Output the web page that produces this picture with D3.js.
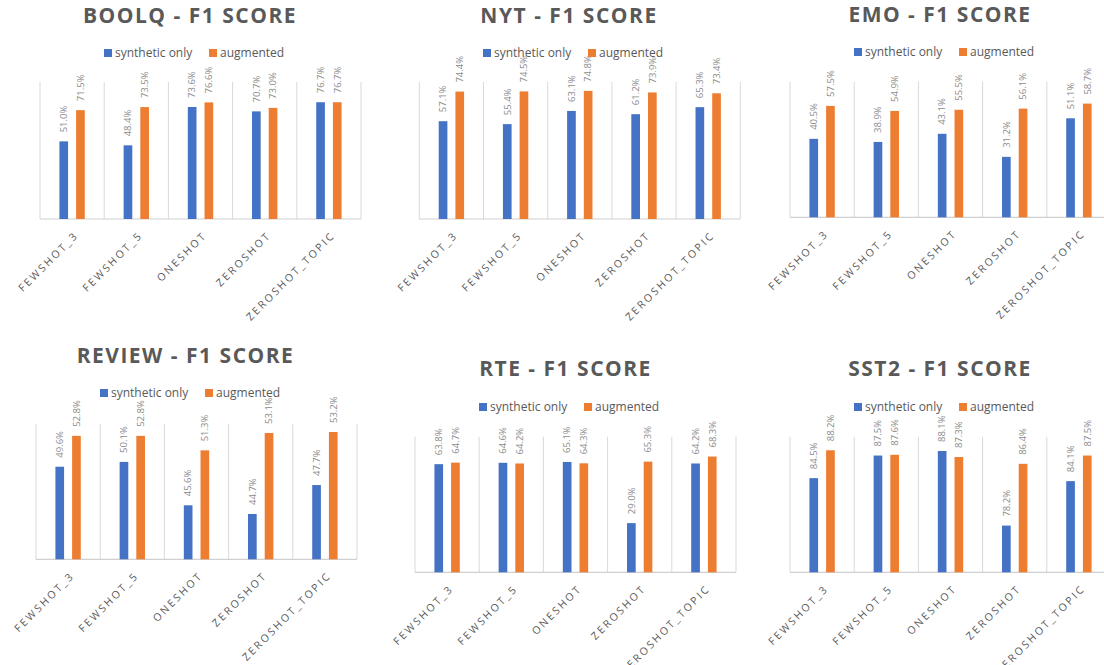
<!DOCTYPE html>
<html>
<head>
<meta charset="utf-8">
<script src="https://cdn.jsdelivr.net/npm/d3@7"></script>
<style>
  html, body { margin: 0; padding: 0; background: #ffffff; }
  svg { display: block; }
</style>
</head>
<body>
<svg id="chart" width="1104" height="665"></svg>
<script>
// ---------- DATA ----------
const categories = ["FEWSHOT_3", "FEWSHOT_5", "ONESHOT", "ZEROSHOT", "ZEROSHOT_TOPIC"];
const seriesNames = ["synthetic only", "augmented"];
const chartTitles = ["BOOLQ - F1 SCORE", "NYT - F1 SCORE", "EMO - F1 SCORE",
                     "REVIEW - F1 SCORE", "RTE - F1 SCORE", "SST2 - F1 SCORE"];

const boolqSynthetic  = [51.0, 48.4, 73.6, 70.7, 76.7];
const boolqAugmented  = [71.5, 73.5, 76.6, 73.0, 76.7];
const nytSynthetic    = [57.1, 55.4, 63.1, 61.2, 65.3];
const nytAugmented    = [74.4, 74.5, 74.8, 73.9, 73.4];
const emoSynthetic    = [40.5, 38.9, 43.1, 31.2, 51.1];
const emoAugmented    = [57.5, 54.9, 55.5, 56.1, 58.7];
const reviewSynthetic = [49.6, 50.1, 45.6, 44.7, 47.7];
const reviewAugmented = [52.8, 52.8, 51.3, 53.1, 53.2];
const rteSynthetic    = [63.8, 64.6, 65.1, 29.0, 64.2];
const rteAugmented    = [64.7, 64.2, 64.3, 65.3, 68.3];
const sst2Synthetic   = [84.5, 87.5, 88.1, 78.2, 84.1];
const sst2Augmented   = [88.2, 87.6, 87.3, 86.4, 87.5];

// value-axis ranges (hidden axes) per chart
const axisDomains = [[0, 90], [0, 80], [0, 70], [40, 54], [0, 80], [72, 90]];

const syntheticByChart = [boolqSynthetic, nytSynthetic, emoSynthetic, reviewSynthetic, rteSynthetic, sst2Synthetic];
const augmentedByChart = [boolqAugmented, nytAugmented, emoAugmented, reviewAugmented, rteAugmented, sst2Augmented];

// ---------- LAYOUT (positions only) ----------
const layouts = [
  {x0: 40,    top: 82,    base: 219,   titleX: 190,   titleY: 23,  legX: 104, legY: 49},
  {x0: 419.3, top: 82,    base: 219,   titleX: 569,   titleY: 23,  legX: 483, legY: 49},
  {x0: 790,   top: 81.7,  base: 217.3, titleX: 940,   titleY: 22,  legX: 854, legY: 48},
  {x0: 36,    top: 424.3, base: 559.3, titleX: 185.5, titleY: 363, legX: 100, legY: 389},
  {x0: 415,   top: 436.7, base: 572.3, titleX: 565.5, titleY: 376, legX: 479, legY: 403},
  {x0: 790,   top: 436.7, base: 572.3, titleX: 940,   titleY: 376, legX: 854, legY: 403}
];
const plotWidth = 321;
const colors = {"synthetic only": "#4472C4", "augmented": "#ED7D31"};
const font = "'Open Sans', 'Noto Sans', sans-serif";

const svg = d3.select("#chart");

chartTitles.forEach((title, i) => {
  const L = layouts[i];
  const g = svg.append("g");
  const rows = categories.map((c, k) => ({
    category: c,
    values: [
      {series: seriesNames[0], value: syntheticByChart[i][k]},
      {series: seriesNames[1], value: augmentedByChart[i][k]}
    ]
  }));

  const x = d3.scaleBand().domain(categories).range([L.x0, L.x0 + plotWidth]).padding(0);
  const w = x.bandwidth();
  const xs = d3.scaleBand().domain(seriesNames)
    .range([w * 0.3025, w * 0.6975]).paddingInner(0.481).paddingOuter(0);
  const y = d3.scaleLinear().domain(axisDomains[i]).range([L.base, L.top]);

  // vertical gridlines at category boundaries
  const bounds = categories.map(c => x(c)).concat([L.x0 + plotWidth]);
  g.selectAll("line.grid").data(bounds).enter().append("line")
    .attr("x1", d => d).attr("x2", d => d)
    .attr("y1", L.top).attr("y2", L.base)
    .attr("stroke", "#d9d9d9").attr("stroke-width", 1);

  // baseline
  g.append("line")
    .attr("x1", L.x0).attr("x2", L.x0 + plotWidth)
    .attr("y1", L.base).attr("y2", L.base)
    .attr("stroke", "#d0d0d0").attr("stroke-width", 1.2);

  // bars
  const cg = g.selectAll("g.cat").data(rows).enter().append("g")
    .attr("transform", d => `translate(${x(d.category)},0)`);
  cg.selectAll("rect").data(d => d.values).enter().append("rect")
    .attr("x", d => xs(d.series))
    .attr("width", xs.bandwidth())
    .attr("y", d => y(d.value))
    .attr("height", d => L.base - y(d.value))
    .attr("fill", d => colors[d.series]);

  // data labels (rotated)
  cg.selectAll("text.lbl").data(d => d.values).enter().append("text")
    .attr("transform", d => `translate(${xs(d.series) + xs.bandwidth() / 2},${y(d.value) - 9}) rotate(-90)`)
    .attr("dy", "0.35em")
    .attr("text-anchor", "start")
    .attr("font-family", font)
    .attr("font-size", 9.5)
    .attr("fill", "#8c8c8c")
    .text(d => d.value.toFixed(1) + "%");

  // category labels (rotated -45)
  const xAxis = d3.axisBottom(x).tickSize(0).tickPadding(0);
  const ax = g.append("g").attr("transform", `translate(0,${L.base})`).call(xAxis);
  ax.select(".domain").remove();
  ax.selectAll("text")
    .attr("font-family", font)
    .attr("font-size", 10.5)
    .attr("letter-spacing", "2.3px")
    .attr("fill", "#595959")
    .attr("text-anchor", "end")
    .attr("dy", null).attr("y", 0)
    .attr("transform", "translate(7,17) rotate(-45)");

  // title
  g.append("text")
    .attr("x", L.titleX).attr("y", L.titleY)
    .attr("text-anchor", "middle")
    .attr("font-family", font)
    .attr("font-weight", "bold")
    .attr("font-size", 21)
    .attr("letter-spacing", "1.5px")
    .attr("fill", "#595959")
    .text(title);

  // legend
  const leg = g.selectAll("g.leg").data(seriesNames).enter().append("g")
    .attr("transform", (d, k) => `translate(${L.legX + k * 105},${L.legY})`);
  leg.append("rect").attr("width", 8).attr("height", 8).attr("fill", d => colors[d]);
  leg.append("text").attr("x", 11).attr("y", 8)
    .attr("font-family", font).attr("font-size", 12).attr("fill", "#595959")
    .text(d => d);
});
</script>
</body>
</html>
